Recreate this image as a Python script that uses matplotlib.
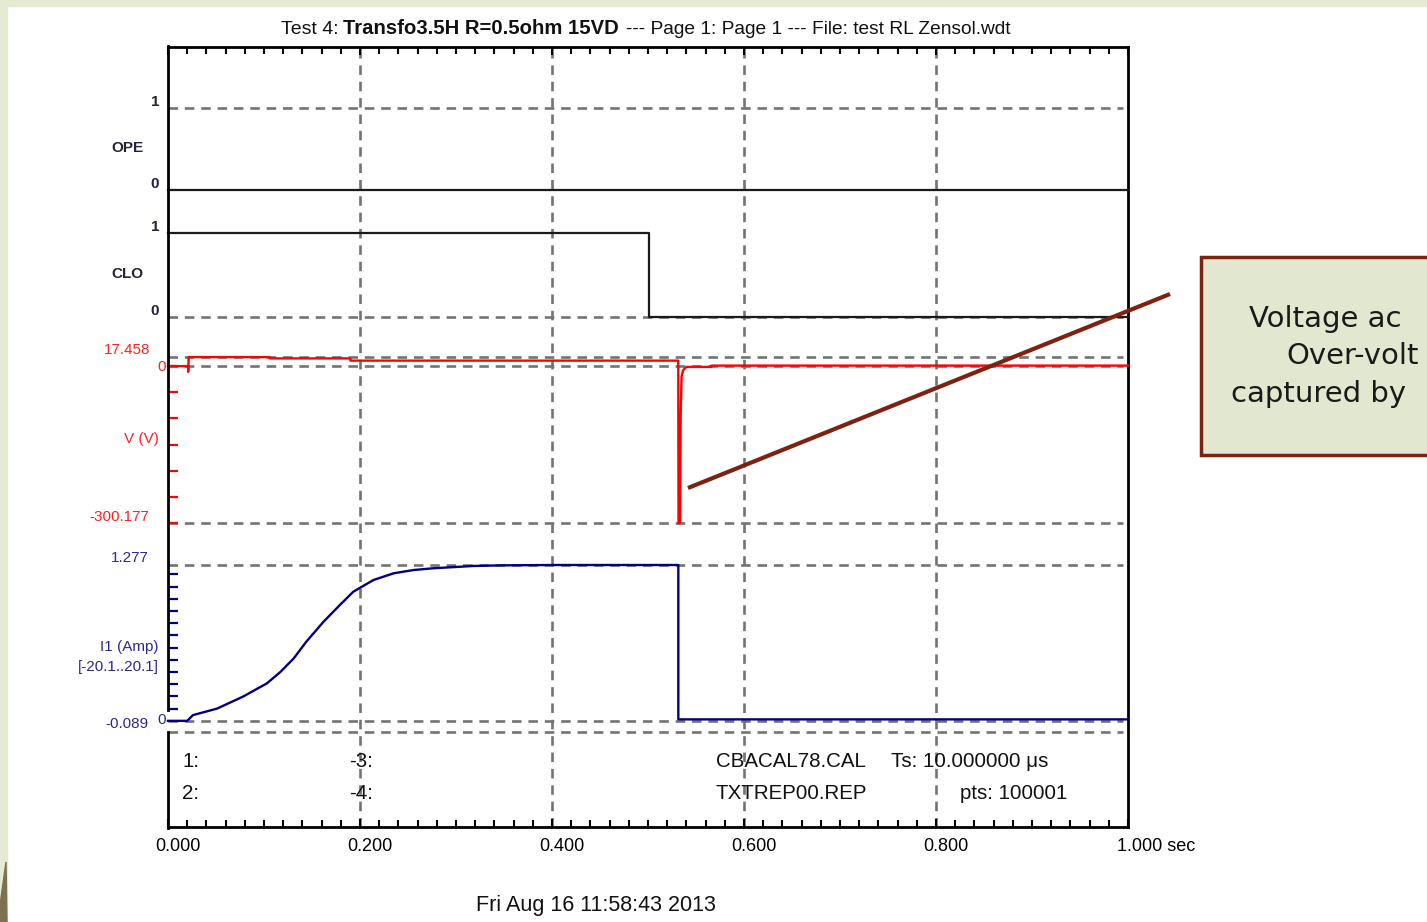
import matplotlib
matplotlib.use('Agg')
import matplotlib.pyplot as plt
from matplotlib.transforms import ScaledTranslation
from matplotlib.patches import Rectangle, Polygon
from matplotlib.lines import Line2D
from matplotlib.text import Annotation

# ---------------- data ----------------
x_ticks = [0.0, 0.2, 0.4, 0.6, 0.8, 1.0]
x_tick_labels = ['0.000', '0.200', '0.400', '0.600', '0.800', '1.000 sec']

t_ope = [0.0, 1.0]
ope = [0, 0]

t_clo = [0.0, 0.501, 0.501, 1.0]
clo = [1, 1, 0, 0]

v_range = (-300.177, 17.458)
t_v = [0.0, 0.021, 0.021, 0.0215, 0.106, 0.106, 0.19, 0.19, 0.5315, 0.5318,
       0.5335, 0.5340, 0.5350, 0.5365, 0.540, 0.566, 0.566, 1.0]
v = [0.0, 0.0, -11.0, 17.3, 17.3, 14.8, 14.8, 10.5, 10.5, -300.177,
     -300.177, -96.0, -20.0, -8.0, -1.5, -1.5, 1.0, 1.0]
v_ticks = [0, -50, -100, -150, -200, -250, -300]

i_range = (-0.089, 1.277)
t_i = [0.0, 0.020, 0.026, 0.051, 0.078, 0.103, 0.117, 0.131, 0.144, 0.162,
       0.179, 0.193, 0.214, 0.235, 0.256, 0.276, 0.318, 0.346, 0.40, 0.5316,
       0.5316, 1.0]
i1 = [0.0, 0.0, 0.047, 0.10, 0.198, 0.307, 0.40, 0.512, 0.648, 0.812,
      0.949, 1.058, 1.154, 1.209, 1.236, 1.250, 1.269, 1.274, 1.277, 1.277,
      0.012, 0.012]
i_ticks = [0.1, 0.2, 0.3, 0.4, 0.5, 0.6, 0.7, 0.8, 0.9, 1.0, 1.1, 1.2]

# ---------------- figure ----------------
W, H = 1427, 922
FONT = ['Liberation Sans', 'DejaVu Sans']
plt.rcParams['font.family'] = FONT
fig = plt.figure(figsize=(W / 100, H / 100), dpi=100)
fig.patch.set_facecolor('white')

def fx(x):
    return x / W

def fy(y):
    return 1 - y / H

# page decoration
fig.patches.append(Rectangle((0, fy(6)), 1, 6 / H, transform=fig.transFigure,
                             color='#e5ebd3', zorder=0))
fig.patches.append(Rectangle((0, 0), fx(7), 1, transform=fig.transFigure,
                             color='#e5ebd3', zorder=0))
fig.patches.append(Polygon([(0, 0), (fx(7), 0), (fx(6), fy(862)), (0, fy(905))],
                           closed=True, transform=fig.transFigure,
                           color='#7c7250', zorder=1))

GRID = dict(color='#737373', lw=1.9, linestyle=(0, (3.6, 2.6)), clip_on=False)
L, R, TOP, BOT = 168, 1128, 47, 827

main = fig.add_axes([fx(L), fy(BOT), (R - L) / W, (BOT - TOP) / H])
main.set_xlim(0, 1)
main.set_ylim(0, 1)
main.set_yticks([])
for s in ['top', 'bottom', 'right']:
    main.spines[s].set_linewidth(2)
main.spines['left'].set_visible(False)
main.set_xticks(x_ticks)
main.set_xticklabels(x_tick_labels)
main.set_xticks([k / 50 for k in range(51)], minor=True)
main.tick_params(axis='x', which='both', direction='in', top=True, bottom=True,
                 width=1.5, labelsize=13, pad=8)
main.tick_params(axis='x', which='major', length=6)
main.tick_params(axis='x', which='minor', length=5)
labels = main.get_xticklabels()
for k, lab in enumerate(labels):
    if k == len(labels) - 1:
        lab.set_horizontalalignment('left')
        lab.set_transform(lab.get_transform() + ScaledTranslation(-11 / 100, 0, fig.dpi_scale_trans))
    else:
        lab.set_transform(lab.get_transform() + ScaledTranslation(10 / 100, 0, fig.dpi_scale_trans))
main.vlines([0.2, 0.4, 0.6, 0.8], 0, 1, **GRID, zorder=1)
# left border with gap
fig.add_artist(Line2D([fx(L), fx(L)], [fy(TOP - 1), fy(710)], color='black', lw=2))
fig.add_artist(Line2D([fx(L), fx(L)], [fy(732), fy(BOT + 1)], color='black', lw=2))

def chan_ax(ytop, ybot, lo, hi):
    ax = fig.add_axes([fx(L), fy(ybot), (R - L) / W, (ybot - ytop) / H])
    ax.set_xlim(0, 1)
    ax.set_ylim(lo, hi)
    ax.axis('off')
    return ax

GX = 0.995

# OPE
ax_o = chan_ax(108, 190, 0, 1)
ax_o.hlines([1], 0, GX, **GRID)
ax_o.plot(t_ope, ope, color='#1a1a1a', lw=1.6, clip_on=False)

# CLO
ax_c = chan_ax(233, 317, 0, 1)
ax_c.hlines([0], 0, GX, **GRID)
ax_c.plot(t_clo, clo, color='#1a1a1a', lw=1.6, clip_on=False)

# V
ax_v = chan_ax(357, 523, v_range[0], v_range[1])
ax_v.hlines([v_range[1], 0, v_range[0]], 0, GX, **GRID)
ax_v.hlines(v_ticks, 0, 0.0105, color='#ff0000', lw=1.6, clip_on=False)
ax_v.plot(t_v, v, color='#ff0000', lw=1.7, clip_on=False)

# I1
ax_i = chan_ax(565, 731.7, i_range[0], i_range[1])
ax_i.hlines([i_range[1], 0, i_range[0]], 0, GX, **GRID)
ax_i.hlines(i_ticks, 0, 0.0105, color='#000080', lw=1.6, clip_on=False)
ax_i.plot(t_i, i1, color='#000080', lw=1.7, clip_on=False)

# ---------------- texts ----------------
def T(x, y, s, ha='left', va='center', **kw):
    return fig.text(fx(x), fy(y), s, ha=ha, va=va, **kw)

DARK = '#22223a'
RED = '#ff2020'
BLUE = '#2a2a90'
T(159, 102, '1', ha='right', fontsize=11, fontweight='bold', color=DARK)
T(143, 148, 'OPE', ha='right', fontsize=11, fontweight='bold', color=DARK)
T(159, 184, '0', ha='right', fontsize=11, fontweight='bold', color=DARK)
T(159, 227, '1', ha='right', fontsize=11, fontweight='bold', color=DARK)
T(143, 274, 'CLO', ha='right', fontsize=11, fontweight='bold', color=DARK)
T(159, 311, '0', ha='right', fontsize=11, fontweight='bold', color=DARK)

T(150, 350, '17.458', ha='right', fontsize=11, color=RED)
T(166, 367, '0', ha='right', fontsize=11, color=RED)
T(159, 439, 'V (V)', ha='right', fontsize=11, color=RED)
T(149, 517, '-300.177', ha='right', fontsize=11, color=RED)

T(149, 558, '1.277', ha='right', fontsize=11, color=BLUE)
T(166, 720, '0', ha='right', fontsize=11, color=BLUE)
T(159, 647, 'I1 (Amp)', ha='right', fontsize=11, color=BLUE)
T(159, 667, '[-20.1..20.1]', ha='right', fontsize=11, color=BLUE)
T(149, 724, '-0.089', ha='right', fontsize=11, color=BLUE)

# info block
INFO = dict(fontsize=14.8, color='#111111')
T(182, 761, '1:', **INFO)
T(182, 793, '2:', **INFO)
T(349, 761, '-3:', **INFO)
T(349, 793, '-4:', **INFO)
T(716, 761, 'CBACAL78.CAL', **INFO)
T(716, 793, 'TXTREP00.REP', **INFO)
T(891, 761, 'Ts: 10.000000 \u03bcs', **INFO)
T(960, 793, 'pts: 100001', **INFO)

T(596, 905, 'Fri Aug 16 11:58:43 2013', ha='center', fontsize=15.5, color='#111111')

# title in three pieces
t1 = T(281, 30, 'Test 4:', fontsize=14, color='#111111')
t2 = fig.add_artist(Annotation('Transfo3.5H R=0.5ohm 15VD', xy=(1, 0), xycoords=t1,
                    xytext=(3.5, 0), textcoords='offset points', ha='left', va='bottom',
                    fontsize=14.6, fontweight='bold', color='#111111'))
t3 = fig.add_artist(Annotation('--- Page 1: Page 1 --- File: test RL Zensol.wdt', xy=(1, 0),
                    xycoords=t2, xytext=(5, 0), textcoords='offset points', ha='left', va='bottom',
                    fontsize=13.8, color='#111111'))

# callout
fig.patches.append(Rectangle((fx(1201), fy(455)), fx(300), 198 / H, transform=fig.transFigure,
                             facecolor='#e2e8d0', edgecolor='#7b2210', lw=2.5, zorder=3))
fig.add_artist(Line2D([fx(688), fx(1170)], [fy(488), fy(294)], color='#7b2210', lw=3,
                      solid_capstyle='butt', zorder=5))
CF = dict(fontsize=21, color='#1a1a1a', family=['DejaVu Sans'], zorder=6)
T(1249, 319, 'Voltage ac', **CF)
T(1286, 356, 'Over-volt', **CF)
T(1231, 394, 'captured by', **CF)

fig.savefig('out.png', dpi=100)
